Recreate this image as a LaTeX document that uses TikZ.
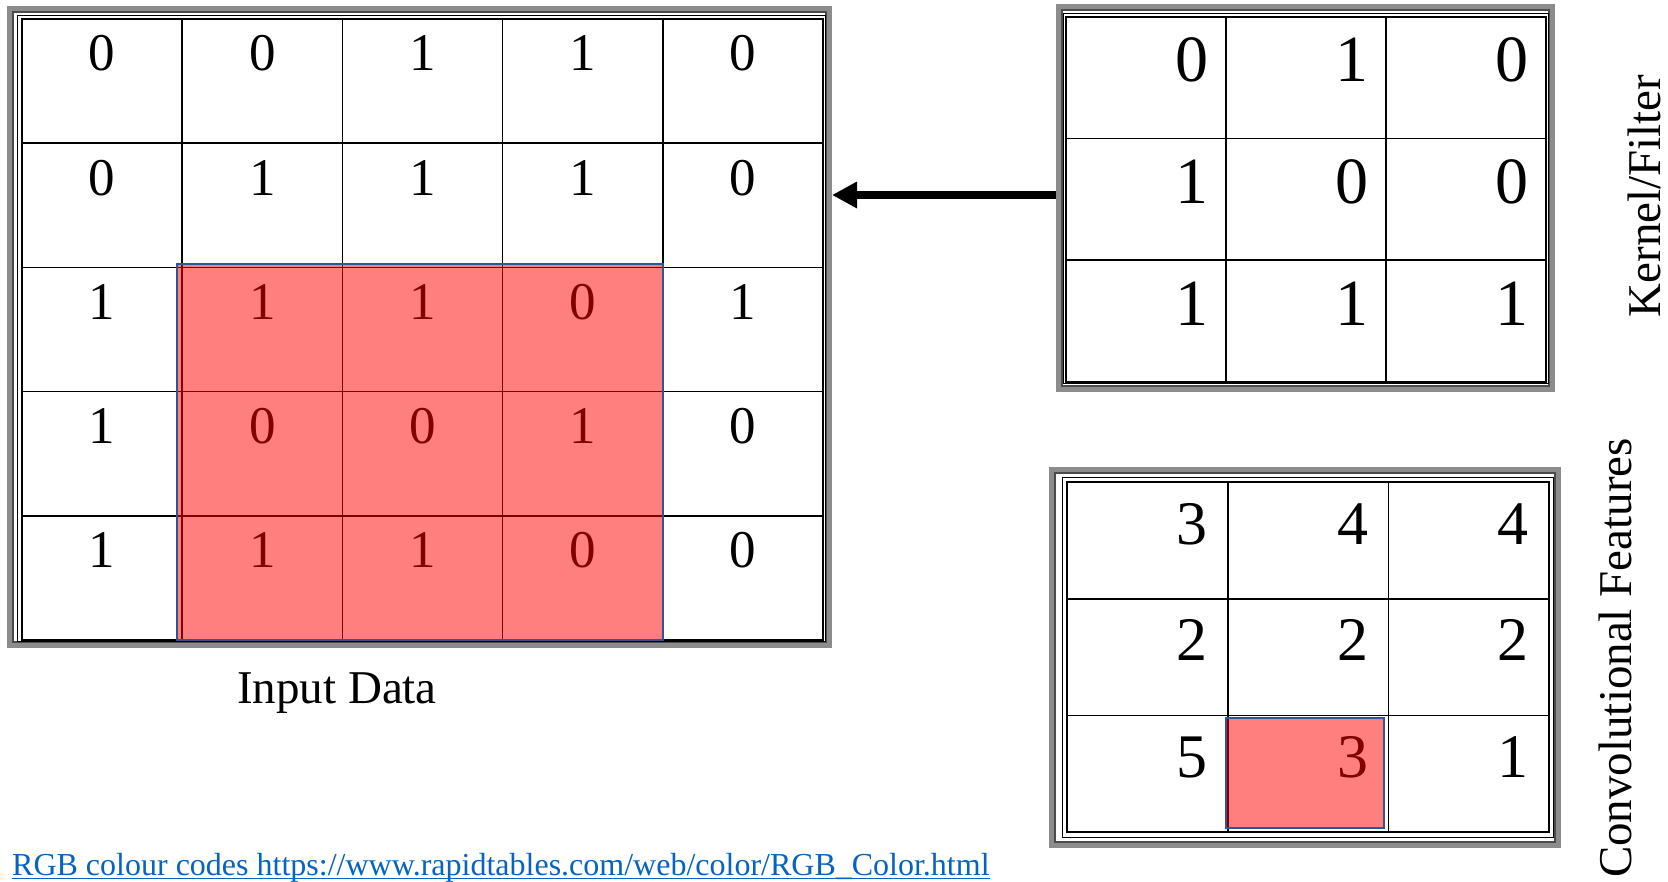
\documentclass[tikz,border=0pt]{standalone}
\usepackage{fontspec}
\setmainfont{Liberation Serif}
\usetikzlibrary{arrows.meta}
\definecolor{frameg}{RGB}{140,140,140}
\definecolor{framed}{RGB}{75,75,75}
\definecolor{hlred}{RGB}{255,0,0}
\definecolor{hlblue}{RGB}{47,85,151}
\definecolor{linkblue}{RGB}{5,99,193}
\tikzset{
  framebox/.style={draw=frameg, line width=7pt, inner sep=0pt, outer sep=3.5pt},
  frameinner/.style={draw=framed, line width=2.5pt},
  thinline/.style={draw=black, line width=1pt},
  gridline/.style={draw=black, line width=1.6pt},
  indigit/.style={anchor=base, inner sep=0pt, font=\fontsize{53}{60}\selectfont},
  kdigit/.style={anchor=base east, inner sep=0pt, font=\fontsize{66}{70}\selectfont},
  cdigit/.style={anchor=base east, inner sep=0pt, font=\fontsize{62}{66}\selectfont},
  biglabel/.style={inner sep=0pt, font=\fontsize{47}{52}\selectfont},
  linkst/.style={inner sep=0pt, text=linkblue, font=\fontsize{32}{36}\selectfont},
  hlfill/.style={fill=hlred, opacity=0.5},
  hlborder/.style={draw=hlblue, line width=2.5pt},
  bigarrow/.style={line width=8pt, -{Triangle[length=25pt,width=25pt]}}
}
\begin{document}
\begin{tikzpicture}[x=1pt,y=-1pt]
\useasboundingbox (0,0) rectangle (1668,882);
\fill[white] (0,0) rectangle (1668,882);

% ---------- Input data table ----------
\node[framebox, minimum width=818pt, minimum height=635pt] (input) at (419.5,327) {};
\draw[frameinner] (13,12) rectangle (826,642);
\draw[thinline] (17,16) rectangle (825,641);
\draw[gridline] (22,19) rectangle (823,640);
\foreach \x in {182.2,342.4,502.6,662.8} \draw[gridline] (\x,19) -- (\x,640);
\foreach \y in {143.2,267.4,391.6,515.8} \draw[gridline] (22,\y) -- (823,\y);
\foreach \row [count=\r] in {{0,0,1,1,0},{0,1,1,1,0},{1,1,1,0,1},{1,0,0,1,0},{1,1,1,0,0}}{
  \foreach \v [count=\c] in \row {
    \node[indigit] (in-\r-\c) at ({22+160.2*(\c-0.5)},{19+124.2*(\r-1)+52}) {\v};
  }
}
\fill[hlfill] (177,264) rectangle (663,640);
\draw[hlborder] (177,264) rectangle (663,640);

% ---------- Kernel table ----------
\node[framebox, minimum width=492pt, minimum height=381pt] (kernel) at (1305.5,198) {};
\draw[frameinner] (1062,10) rectangle (1549,386);
\draw[thinline] (1063,14) rectangle (1548,384);
\draw[gridline] (1066,17) rectangle (1546,382);
\foreach \x in {1226,1386} \draw[gridline] (\x,17) -- (\x,382);
\foreach \y in {138.7,260.3} \draw[gridline] (1066,\y) -- (1546,\y);
\foreach \row [count=\r] in {{0,1,0},{1,0,0},{1,1,1}}{
  \foreach \v [count=\c] in \row {
    \node[kdigit] (k-\r-\c) at ({1066+160*\c-17},{17+121.7*(\r-1)+65}) {\v};
  }
}

% ---------- Convolutional features table ----------
\node[framebox, minimum width=505pt, minimum height=374pt] (conv) at (1305,657.5) {};
\draw[frameinner] (1055,473) rectangle (1555,842);
\draw[thinline] (1062,477) rectangle (1553,837);
\draw[gridline] (1067,482) rectangle (1549,832);
\foreach \x in {1227.7,1388.3} \draw[gridline] (\x,482) -- (\x,832);
\foreach \y in {598.7,715.3} \draw[gridline] (1067,\y) -- (1549,\y);
\foreach \row [count=\r] in {{3,4,4},{2,2,2},{5,3,1}}{
  \foreach \v [count=\c] in \row {
    \node[cdigit] (c-\r-\c) at ({1067+160.7*\c-20},{482+116.7*(\r-1)+62}) {\v};
  }
}
\fill[hlfill] (1226,718) rectangle (1384,828);
\draw[hlborder] (1226,718) rectangle (1384,828);

% ---------- Arrow ----------
\draw[bigarrow] ([yshift=3pt]kernel.west) -- ([yshift=3pt]kernel.west -| input.east);

% ---------- Labels ----------
\node[biglabel, anchor=base] (inlabel) at (337,703) {Input Data};
\node[biglabel, rotate=90, anchor=base] (klabel) at (1660,196) {Kernel/Filter};
\node[biglabel, rotate=90, anchor=base] (clabel) at (1631,658) {Convolutional Features};
\node[linkst, anchor=base west] (link) at (12,875) {RGB colour codes https://www.rapidtables.com/web/color/RGB\_Color.html};
\draw[draw=linkblue, line width=1.5pt] ([yshift=-3.5pt]link.base west) -- ([yshift=-3.5pt]link.base east);
\end{tikzpicture}
\end{document}
